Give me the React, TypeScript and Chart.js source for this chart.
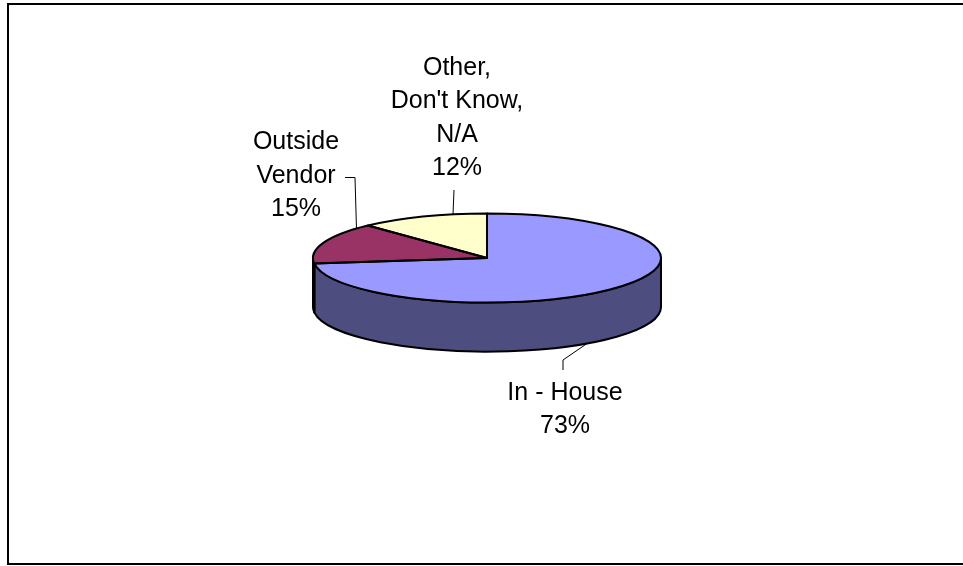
import React, { useEffect, useRef } from 'react';
import { Chart, registerables } from 'chart.js';

Chart.register(...registerables);

// ---- data ----
const categories = ['In - House', 'Outside Vendor', "Other, Don't Know, N/A"];
const categoryLines = [['In - House'], ['Outside', 'Vendor'], ['Other,', "Don't Know,", 'N/A']];
const shares = [73, 15, 12];

// ---- styles ----
const topColors = ['#9999FF', '#993366', '#FFFFCC'];
const sideColors = ['#4D4D80', '#4D1A33', '#808066'];
const TILT = 0.256; // vertical squash of the pie top
const DEPTH = 0.282; // thickness relative to radius
const FONT = '25px "Liberation Sans", Arial, sans-serif';
const LINE_H = 33.5;

// label placement (annotation layout): centre x, first baseline, leader start points, leader aim x
const labelLayout = [
  { x: 565, y: 399.5, leader: [[563, 370], [563, 360]], aimX: 587 },
  { x: 296, y: 149, leader: [[345, 177.5], [355, 177.5]], aimX: 360 },
  { x: 457, y: 74.5, leader: [[454, 190]], aimX: 453 },
];

function geom(arc: any) {
  const p = arc.getProps(['x', 'y', 'startAngle', 'endAngle', 'outerRadius'], true);
  return {
    x: p.x,
    y: p.y,
    s: p.startAngle,
    e: p.endAngle,
    rx: p.outerRadius,
    ry: p.outerRadius * TILT,
    d: p.outerRadius * DEPTH,
  };
}

// angle on the slice rim whose x is closest to aimX, kept inside the slice
function anchorAngle(g: any, aimX: number) {
  const mid = (g.s + g.e) / 2;
  const c = Math.max(-1, Math.min(1, (aimX - g.x) / g.rx));
  const base = Math.acos(c); // 0..PI (front half)
  const front = Math.sin(mid) > 0;
  let t = front ? base : -base;
  const TAU = Math.PI * 2;
  // bring near the slice's mid angle
  while (t - mid > Math.PI) t -= TAU;
  while (mid - t > Math.PI) t += TAU;
  const span = g.e - g.s;
  const lo = g.s + span * 0.1;
  const hi = g.e - span * 0.1;
  return Math.max(lo, Math.min(hi, t));
}

const pie3d = {
  id: 'pie3d',
  beforeDraw(chart: any) {
    const ctx = chart.ctx;
    ctx.save();
    ctx.fillStyle = '#ffffff';
    ctx.fillRect(0, 0, chart.width, chart.height);
    ctx.strokeStyle = '#000';
    ctx.lineWidth = 2;
    ctx.strokeRect(8, 4, chart.width + 40, 560);
    ctx.restore();
  },
  beforeDatasetsDraw(chart: any) {
    const ctx = chart.ctx;
    const arcs = chart.getDatasetMeta(0).data;
    ctx.save();
    ctx.lineWidth = 2;
    ctx.lineJoin = 'round';
    ctx.strokeStyle = '#000';
    arcs.forEach((arc: any, i: number) => {
      const g = geom(arc);
      for (const k of [0, Math.PI * 2]) {
        const a = Math.max(g.s, k);
        const b = Math.min(g.e, k + Math.PI);
        if (b <= a) continue;
        ctx.beginPath();
        ctx.ellipse(g.x, g.y, g.rx, g.ry, 0, a, b, false);
        ctx.lineTo(g.x + g.rx * Math.cos(b), g.y + g.ry * Math.sin(b) + g.d);
        ctx.ellipse(g.x, g.y + g.d, g.rx, g.ry, 0, b, a, true);
        ctx.closePath();
        ctx.fillStyle = sideColors[i];
        ctx.fill();
        ctx.stroke();
      }
    });
    ctx.restore();
    // squash the library-drawn top face into an ellipse
    const cx = arcs[0].x;
    const cy = arcs[0].y;
    ctx.save();
    ctx.translate(cx, cy);
    ctx.scale(1, TILT);
    ctx.translate(-cx, -cy);
  },
  afterDatasetsDraw(chart: any) {
    const ctx = chart.ctx;
    ctx.restore();
    const arcs = chart.getDatasetMeta(0).data;
    ctx.save();
    ctx.lineWidth = 2;
    ctx.lineJoin = 'round';
    ctx.strokeStyle = '#000';
    arcs.forEach((arc: any) => {
      const g = geom(arc);
      ctx.beginPath();
      ctx.moveTo(g.x, g.y);
      ctx.lineTo(g.x + g.rx * Math.cos(g.s), g.y + g.ry * Math.sin(g.s));
      ctx.ellipse(g.x, g.y, g.rx, g.ry, 0, g.s, g.e, false);
      ctx.closePath();
      ctx.stroke();
    });
    ctx.restore();
  },
  afterDraw(chart: any) {
    const ctx = chart.ctx;
    const arcs = chart.getDatasetMeta(0).data;
    ctx.save();
    ctx.font = FONT;
    ctx.fillStyle = '#000';
    ctx.textAlign = 'center';
    ctx.textBaseline = 'alphabetic';
    ctx.strokeStyle = '#000';
    ctx.lineWidth = 1;
    arcs.forEach((arc: any, i: number) => {
      const g = geom(arc);
      const L = labelLayout[i];
      const lines = [...categoryLines[i], `${shares[i]}%`];
      lines.forEach((t, j) => ctx.fillText(t, L.x, L.y + j * LINE_H));
      const t = anchorAngle(g, L.aimX);
      const ax = g.x + g.rx * Math.cos(t);
      const ay = g.y + g.ry * Math.sin(t) + (Math.sin(t) > 0 ? g.d : 0);
      ctx.beginPath();
      L.leader.forEach((p, j) => (j === 0 ? ctx.moveTo(p[0], p[1]) : ctx.lineTo(p[0], p[1])));
      ctx.lineTo(ax, ay);
      ctx.stroke();
    });
    ctx.restore();
  },
};

export default function App() {
  const ref = useRef<HTMLCanvasElement | null>(null);
  useEffect(() => {
    if (!ref.current) return;
    const chart = new Chart(ref.current, {
      type: 'pie',
      data: {
        labels: categories,
        datasets: [
          {
            data: shares,
            backgroundColor: topColors,
            borderWidth: 0,
            clip: false as any,
          },
        ],
      },
      options: {
        responsive: false,
        maintainAspectRatio: false,
        animation: false,
        events: [],
        layout: { padding: { left: 313, right: 302, top: 84, bottom: 134 } },
        plugins: {
          legend: { display: false },
          tooltip: { enabled: false },
          title: { display: false },
        },
      },
      plugins: [pie3d as any],
    });
    return () => chart.destroy();
  }, []);
  return (
    <div style={{ position: 'absolute', left: 0, top: 0, width: 963, height: 566 }}>
      <canvas ref={ref} width={963} height={566} style={{ display: 'block' }} />
    </div>
  );
}
